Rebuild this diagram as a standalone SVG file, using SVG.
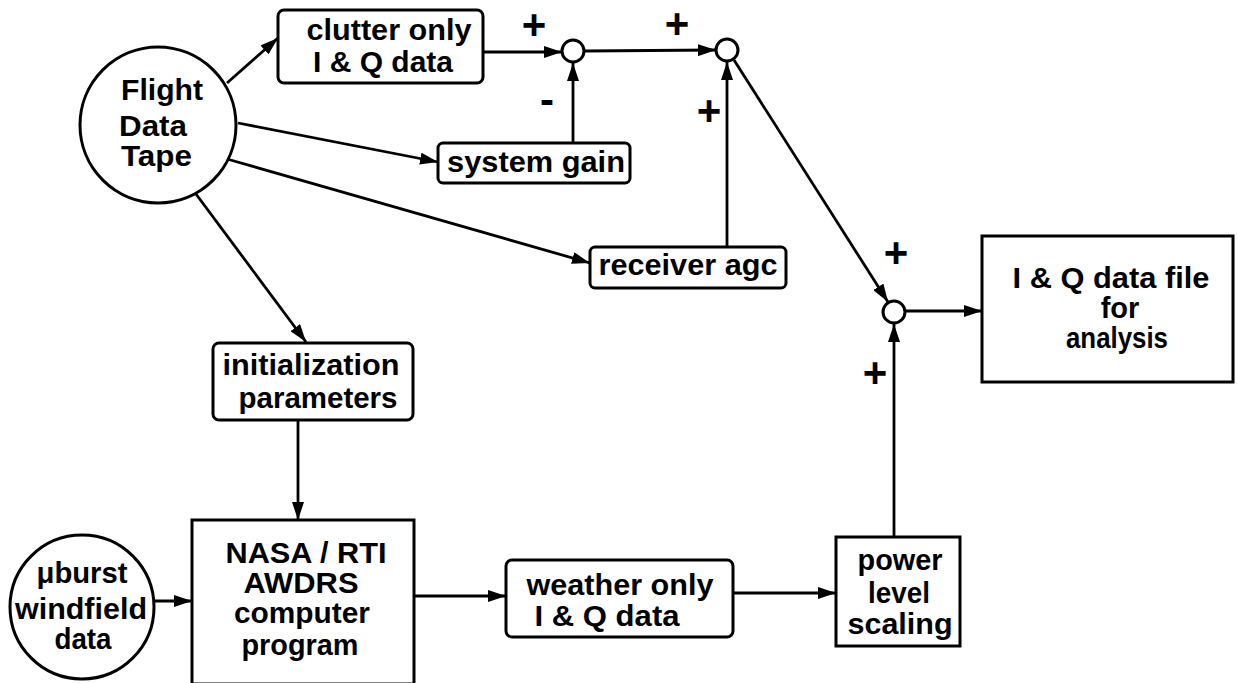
<svg xmlns="http://www.w3.org/2000/svg" width="1237" height="683" viewBox="0 0 1237 683">
<style>
.box{fill:#fff;stroke:#000;stroke-width:3}
.t{font-family:"Liberation Sans",Arial,sans-serif;font-weight:bold;font-size:29px;fill:#000;text-anchor:middle}
.s{font-family:"Liberation Sans",Arial,sans-serif;font-weight:bold;font-size:42px;fill:#000;text-anchor:middle}
.c{fill:none;stroke:#000;stroke-width:2.8}
.j{fill:#fff;stroke:#000;stroke-width:3}
</style>
<defs>
<marker id="ah" markerUnits="userSpaceOnUse" markerWidth="19" markerHeight="12" refX="18" refY="6" orient="auto">
<path d="M0,0 L18,6 L0,12 z" fill="#000"/>
</marker>
</defs>
<rect width="1237" height="683" fill="#fff"/>
<g id="connectors">
<line class="c" x1="227" y1="83" x2="278" y2="38" marker-end="url(#ah)"/>
<line class="c" x1="483" y1="52" x2="562" y2="52" marker-end="url(#ah)"/>
<line class="c" x1="585" y1="51" x2="716" y2="50" marker-end="url(#ah)"/>
<line class="c" x1="573" y1="143" x2="573" y2="63" marker-end="url(#ah)"/>
<line class="c" x1="238" y1="123" x2="438" y2="162" marker-end="url(#ah)"/>
<line class="c" x1="227" y1="159" x2="590" y2="263" marker-end="url(#ah)"/>
<line class="c" x1="727" y1="247" x2="727" y2="62" marker-end="url(#ah)"/>
<line class="c" x1="734" y1="60" x2="888" y2="302" marker-end="url(#ah)"/>
<line class="c" x1="905" y1="311" x2="982" y2="311" marker-end="url(#ah)"/>
<line class="c" x1="894" y1="537" x2="894" y2="324" marker-end="url(#ah)"/>
<line class="c" x1="193" y1="190" x2="306" y2="342" marker-end="url(#ah)"/>
<line class="c" x1="298" y1="420" x2="298" y2="520" marker-end="url(#ah)"/>
<line class="c" x1="153" y1="601" x2="192" y2="601" marker-end="url(#ah)"/>
<line class="c" x1="414" y1="596" x2="506" y2="596" marker-end="url(#ah)"/>
<line class="c" x1="733" y1="593" x2="836" y2="593" marker-end="url(#ah)"/>
</g>
<g id="flight-data-tape">
<circle class="box" cx="158" cy="125" r="78"/>
<text class="t" x="121" y="100" style="text-anchor:start" textLength="82" lengthAdjust="spacingAndGlyphs">Flight</text>
<text class="t" x="119" y="136" style="text-anchor:start" textLength="68" lengthAdjust="spacingAndGlyphs">Data</text>
<text class="t" x="121" y="166" style="text-anchor:start" textLength="71" lengthAdjust="spacingAndGlyphs">Tape</text>
</g>
<g id="clutter-only">
<rect class="box" x="278" y="10" width="205" height="73" rx="6"/>
<text class="t" x="389" y="40" textLength="165" lengthAdjust="spacingAndGlyphs">clutter only</text>
<text class="t" x="383" y="72" textLength="140" lengthAdjust="spacingAndGlyphs">I &amp; Q data</text>
</g>
<g id="system-gain">
<rect class="box" x="438" y="143" width="192" height="40" rx="5"/>
<text class="t" x="536" y="172" textLength="178" lengthAdjust="spacingAndGlyphs">system gain</text>
</g>
<g id="receiver-agc">
<rect class="box" x="590" y="247" width="196" height="41" rx="5"/>
<text class="t" x="688" y="275" textLength="179" lengthAdjust="spacingAndGlyphs">receiver agc</text>
</g>
<g id="sum1">
<circle class="j" cx="573" cy="51" r="11"/>
</g>
<g id="sum2">
<circle class="j" cx="727" cy="50" r="11"/>
</g>
<g id="sum3">
<circle class="j" cx="894" cy="312" r="11"/>
</g>
<g id="signs">
<text class="s" x="534" y="39">+</text>
<text class="s" x="677" y="38">+</text>
<text class="s" x="547" y="114">-</text>
<text class="s" x="709" y="125">+</text>
<text class="s" x="896" y="267">+</text>
<text class="s" x="875" y="387">+</text>
</g>
<g id="iq-data-file">
<rect class="box" x="982" y="236" width="251" height="146"/>
<text class="t" x="1111" y="288" textLength="197" lengthAdjust="spacingAndGlyphs">I &amp; Q data file</text>
<text class="t" x="1120" y="318">for</text>
<text class="t" x="1117" y="348" textLength="102" lengthAdjust="spacingAndGlyphs">analysis</text>
</g>
<g id="initialization-parameters">
<rect class="box" x="213" y="343" width="200" height="77" rx="6"/>
<text class="t" x="311" y="375" textLength="177" lengthAdjust="spacingAndGlyphs">initialization</text>
<text class="t" x="318" y="408" textLength="159" lengthAdjust="spacingAndGlyphs">parameters</text>
</g>
<g id="nasa-rti">
<rect class="box" x="192" y="520" width="222" height="164"/>
<text class="t" x="306" y="563" textLength="161" lengthAdjust="spacingAndGlyphs">NASA / RTI</text>
<text class="t" x="301" y="593" textLength="115" lengthAdjust="spacingAndGlyphs">AWDRS</text>
<text class="t" x="302" y="623" textLength="136" lengthAdjust="spacingAndGlyphs">computer</text>
<text class="t" x="300" y="655" textLength="117" lengthAdjust="spacingAndGlyphs">program</text>
</g>
<g id="microburst">
<circle class="box" cx="82" cy="607" r="72"/>
<text class="t" x="82" y="583" textLength="91" lengthAdjust="spacingAndGlyphs">μburst</text>
<text class="t" x="81" y="619" textLength="132" lengthAdjust="spacingAndGlyphs">windfield</text>
<text class="t" x="83" y="649" textLength="57" lengthAdjust="spacingAndGlyphs">data</text>
</g>
<g id="weather-only">
<rect class="box" x="506" y="560" width="227" height="77" rx="6"/>
<text class="t" x="620" y="595" textLength="187" lengthAdjust="spacingAndGlyphs">weather only</text>
<text class="t" x="607" y="626" textLength="145" lengthAdjust="spacingAndGlyphs">I &amp; Q data</text>
</g>
<g id="power-level-scaling">
<rect class="box" x="836" y="537" width="124" height="109"/>
<text class="t" x="900" y="570" textLength="85" lengthAdjust="spacingAndGlyphs">power</text>
<text class="t" x="899" y="603" textLength="62" lengthAdjust="spacingAndGlyphs">level</text>
<text class="t" x="900" y="634" textLength="105" lengthAdjust="spacingAndGlyphs">scaling</text>
</g>
</svg>
